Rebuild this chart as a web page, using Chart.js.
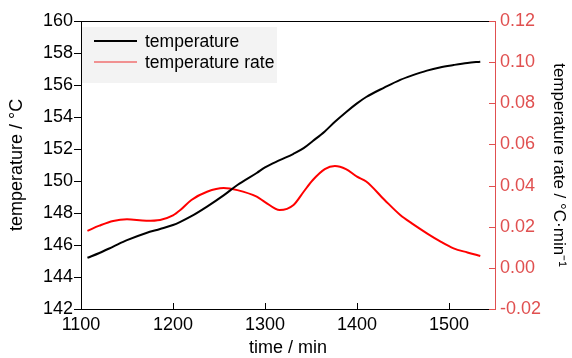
<!DOCTYPE html>
<html>
<head>
<meta charset="utf-8">
<script src="https://cdn.jsdelivr.net/npm/chart.js@4/dist/chart.umd.min.js"></script>
<style>
html,body{margin:0;padding:0;background:#fff;}
#wrap{width:572px;height:358px;position:relative;}
</style>
</head>
<body>
<div id="wrap"><canvas id="c" width="572" height="358"></canvas></div>
<script>
const timeMin = [1107,1120,1135,1150,1171,1186,1200,1208,1220,1237,1255,1270,1291,1300,1316,1331,1342,1352,1365,1376,1388,1400,1410,1430,1447,1460,1476,1490,1505,1520,1534];
const temperature = [145.2,145.5,145.9,146.3,146.75,147.0,147.25,147.45,147.8,148.4,149.1,149.75,150.5,150.85,151.3,151.7,152.05,152.5,153.1,153.7,154.3,154.85,155.25,155.85,156.32,156.6,156.9,157.1,157.25,157.38,157.46];
const temperatureRate = [0.018,0.0205,0.0228,0.0236,0.0229,0.0233,0.0255,0.0281,0.033,0.037,0.0388,0.0378,0.0346,0.032,0.0281,0.0306,0.037,0.0427,0.048,0.0495,0.048,0.0443,0.042,0.033,0.0257,0.0215,0.0168,0.013,0.0095,0.0075,0.0058];
const seriesLabels = ['temperature','temperature rate'];
const xTickValues = [1100,1200,1300,1400,1500];

const FONT = "'Liberation Sans',Arial,sans-serif";
const RED_AXIS = '#e05050';

const extras = {
  id:'extras',
  afterDraw(chart){
    const ctx = chart.ctx, a = chart.chartArea;
    const xs = chart.scales.x, yr = chart.scales.y1;
    ctx.save();
    ctx.lineWidth = 1;
    ctx.strokeStyle = '#000';
    ctx.beginPath(); ctx.moveTo(a.left, Math.round(a.top)+0.5); ctx.lineTo(a.right, Math.round(a.top)+0.5); ctx.stroke();
    xs.ticks.forEach(t=>{
      const px = Math.round(xs.getPixelForValue(t.value))+0.5;
      ctx.beginPath(); ctx.moveTo(px, a.bottom); ctx.lineTo(px, a.bottom-6); ctx.stroke();
    });
    ctx.strokeStyle = RED_AXIS;
    yr.ticks.forEach(t=>{
      const py = Math.round(yr.getPixelForValue(t.value))+0.5;
      ctx.beginPath(); ctx.moveTo(a.right, py); ctx.lineTo(a.right-6, py); ctx.stroke();
    });
    const lx = a.left+1, ly = a.top+6;
    ctx.fillStyle = '#f3f3f3';
    ctx.fillRect(lx, ly, 195, 56);
    const ds = chart.data.datasets;
    ctx.font = "17.5px " + FONT;
    ctx.textBaseline = 'middle';
    ds.forEach((d,i)=>{
      const y = ly + 14 + i*21;
      ctx.strokeStyle = i===0 ? d.borderColor : '#f07070';
      ctx.lineWidth = i===0 ? 2 : 1.5;
      ctx.beginPath(); ctx.moveTo(a.left+13, y); ctx.lineTo(a.left+56, y); ctx.stroke();
      ctx.fillStyle = '#000';
      ctx.fillText(d.label, a.left+64, y+1);
    });
    ctx.restore();
  }
};

new Chart(document.getElementById('c'), {
  type:'line',
  data:{
    datasets:[
      {label:seriesLabels[0], data: timeMin.map((t,i)=>({x:t,y:temperature[i]})), borderColor:'#000', borderWidth:2, pointRadius:0, tension:0.4, cubicInterpolationMode:'monotone', yAxisID:'y'},
      {label:seriesLabels[1], data: timeMin.map((t,i)=>({x:t,y:temperatureRate[i]})), borderColor:'#ff0000', borderWidth:2, pointRadius:0, tension:0.4, cubicInterpolationMode:'monotone', yAxisID:'y1'}
    ]
  },
  options:{
    responsive:false, animation:false,
    layout:{padding:{top:21,left:0,right:0,bottom:0}},
    plugins:{legend:{display:false}, tooltip:{enabled:false}},
    scales:{
      x:{
        type:'linear', min:1100, max:1550,
        afterBuildTicks(s){ s.ticks = xTickValues.map(v=>({value:v})); },
        afterFit(s){ s.height = 49; },
        grid:{drawOnChartArea:false, drawTicks:false},
        border:{color:'#000', width:1},
        ticks:{color:'#000', padding:5, font:{family:FONT, size:18}, maxRotation:0, callback:v=>String(v)},
        title:{display:true, text:'time / min', color:'#000', font:{family:FONT, size:18, lineHeight:1}, padding:{top:0,bottom:1}}
      },
      y:{
        position:'left', min:142, max:160,
        ticks:{stepSize:2, color:'#000', padding:1, font:{family:FONT, size:18}},
        afterFit(s){ s.width = 81; },
        grid:{drawOnChartArea:false, drawTicks:true, tickLength:7, color:'#000'},
        border:{color:'#000', width:1},
        title:{display:true, text:'temperature / °C', color:'#000', font:{family:FONT, size:18, lineHeight:1}, padding:{top:8,bottom:0}}
      },
      y1:{
        position:'right', min:-0.02, max:0.12,
        ticks:{stepSize:0.02, color:RED_AXIS, padding:5, font:{family:FONT, size:18}, callback:v=>{const r=Math.round(v*100)/100; return (Math.abs(r)<1e-9?0:r).toFixed(2);}},
        afterFit(s){ s.width = 77; },
        grid:{drawOnChartArea:false, drawTicks:false},
        border:{color:RED_AXIS, width:1},
        title:{display:true, text:'temperature rate / °C·min⁻¹', color:'#000', font:{family:FONT, size:17, lineHeight:1}, padding:{top:5,bottom:0}}
      }
    }
  },
  plugins:[extras]
});
</script>
</body>
</html>
